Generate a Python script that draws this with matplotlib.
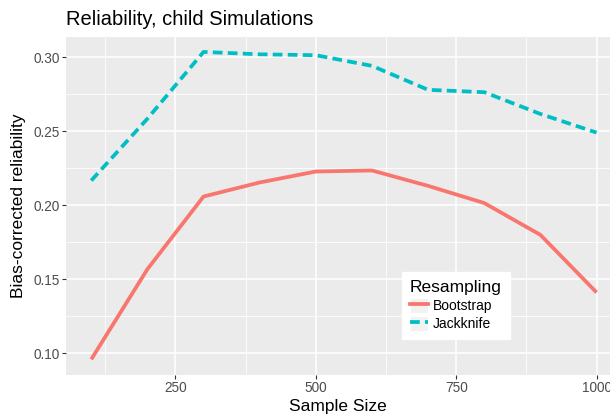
import matplotlib.pyplot as plt
from matplotlib.lines import Line2D
from matplotlib.patches import Patch

plt.rcParams['font.family'] = ['Liberation Sans', 'DejaVu Sans']

# data
sample_size = [100, 200, 300, 400, 500, 600, 700, 800, 900, 1000]
bootstrap = [0.0959, 0.1568, 0.2059, 0.2154, 0.2228, 0.2235, 0.2131, 0.2015, 0.1800, 0.1411]
jackknife = [0.2167, 0.2585, 0.3036, 0.3020, 0.3014, 0.2942, 0.2780, 0.2764, 0.2617, 0.2491]

x_major = [250, 500, 750, 1000]
x_minor = [125, 375, 625, 875]
y_major = [0.10, 0.15, 0.20, 0.25, 0.30]
y_minor = [0.125, 0.175, 0.225, 0.275]

red = '#F8766D'
teal = '#00BFC4'
lw = 2.7
dash = (2.6, 1.4)

fig = plt.figure(figsize=(6.1, 4.17), dpi=100)
ax = fig.add_axes([66 / 610, 1 - 375 / 417, 544 / 610, 338.3 / 417])
ax.set_facecolor('#EBEBEB')
for s in ax.spines.values():
    s.set_visible(False)

ax.set_xticks(x_major)
ax.set_xticks(x_minor, minor=True)
ax.set_yticks(y_major)
ax.set_yticks(y_minor, minor=True)
ax.set_yticklabels(['%.2f' % v for v in y_major])
ax.grid(True, which='major', color='white', linewidth=1.1)
ax.grid(True, which='minor', color='white', linewidth=0.55)
ax.set_axisbelow(True)
ax.tick_params(which='major', length=3, width=0.8, color='#333333',
               labelsize=9.8, labelcolor='#4D4D4D', pad=1.5)
ax.tick_params(which='minor', length=0)

ax.plot(sample_size, bootstrap, color=red, linewidth=lw, solid_capstyle='butt')
ln, = ax.plot(sample_size, jackknife, color=teal, linewidth=lw)
ln.set_dashes(dash)

ax.set_xlim(55, 1024)
ax.set_ylim(0.0853, 0.3139)

ax.set_xlabel('Sample Size', fontsize=12.5, va='baseline')
ax.xaxis.set_label_coords(0.5, (375 - 411) / 338.3)
ax.set_ylabel('Bias-corrected reliability', fontsize=12.5, va='center')
ax.yaxis.set_label_coords((18.7 - 66) / 544, 0.5)
fig.text(66 / 610, 1 - 25 / 417, 'Reliability, child Simulations', fontsize=14.5,
         ha='left', va='baseline')

# legend keys: grey key box with the line on top
key = Patch(facecolor='#F2F2F2', edgecolor='white', linewidth=0.8)
h_boot = Line2D([], [], color=red, linewidth=lw)
h_jack = Line2D([], [], color=teal, linewidth=lw, dashes=dash)
leg = ax.legend([(key, h_boot), (key, h_jack)], ['Bootstrap', 'Jackknife'],
                title='Resampling', loc='upper left',
                bbox_to_anchor=((401.7 - 66) / 544, (375 - 271.7) / 338.3),
                borderaxespad=0, fontsize=10, title_fontsize=12.5,
                frameon=True, fancybox=False, handlelength=1.3,
                handleheight=1.3, handletextpad=0.35, labelspacing=0.2,
                borderpad=0.6, alignment='left')
leg.get_frame().set_edgecolor('white')
leg.get_frame().set_facecolor('white')
leg.get_frame().set_alpha(1)

fig.savefig('out.png', dpi=100)
